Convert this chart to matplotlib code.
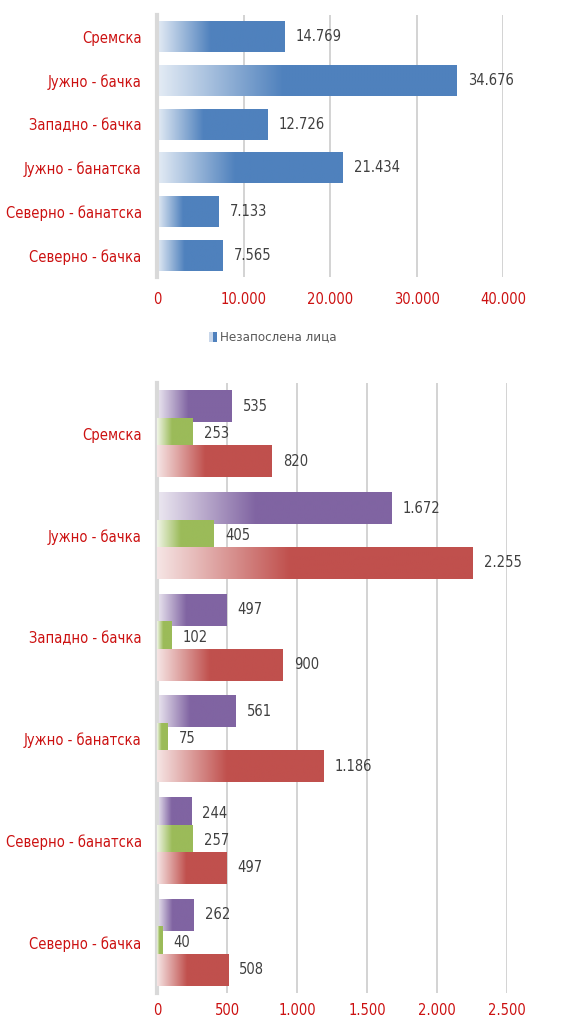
import numpy as np
import matplotlib.pyplot as plt
from matplotlib.colors import to_rgb
from matplotlib.font_manager import fontManager

# podaci
okruzi = ["Сремска", "Јужно - бачка", "Западно - бачка", "Јужно - банатска",
          "Северно - банатска", "Северно - бачка"]
nezaposleni = [14769, 34676, 12726, 21434, 7133, 7565]
serija_lj = [535, 1672, 497, 561, 244, 262]
serija_ze = [253, 405, 102, 75, 257, 40]
serija_cr = [820, 2255, 900, 1186, 497, 508]

top_ticks = [0, 10000, 20000, 30000, 40000]
bot_ticks = [0, 500, 1000, 1500, 2000, 2500]

# uzak font ako postoji
condensed = [f for f in fontManager.ttflist
             if f.name == 'DejaVu Sans' and 'condensed' in str(f.stretch).lower()]
if condensed:
    plt.rcParams['font.family'] = ['DejaVu Sans']
    plt.rcParams['font.stretch'] = 'condensed'
    FS = 10
else:
    plt.rcParams['font.family'] = ['Liberation Sans', 'DejaVu Sans']
    FS = 9.5

RED_TXT = '#CC1111'
VAL_TXT = '#404040'
GRID = '#D0D0D0'


def fmt(v):
    return f"{v:,}".replace(',', '.')


def gradient_fill(ax, bars, color):
    c = np.array(to_rgb(color))
    light = 1 - (1 - c) * 0.15
    n = 200
    t = np.linspace(0, 1, n)
    w = np.clip(t / 0.42, 0, 1)
    img = light[None, :] * (1 - w[:, None]) + c[None, :] * w[:, None]
    img = img[None, :, :]
    for b in bars:
        x0, y0 = b.get_x(), b.get_y()
        x1, y1 = x0 + b.get_width(), y0 + b.get_height()
        b.set_facecolor('none')
        im = ax.imshow(img, extent=(x0, x1, y1, y0), aspect='auto',
                       zorder=b.get_zorder(), interpolation='bilinear')
        im.set_clip_path(b)


def style_axis(ax, ticks, xmax, xpad):
    ax.set_xlim(0, xmax)
    ax.set_ylim(5.5, -0.5)
    ax.set_xticks(ticks)
    ax.set_xticklabels([fmt(t) for t in ticks], color=RED_TXT, fontsize=FS + 0.5)
    ax.set_yticks(range(len(okruzi)))
    ax.set_yticklabels(okruzi, color=RED_TXT, fontsize=FS + 0.5)
    ax.tick_params(length=0, pad=11)
    ax.tick_params(axis='x', pad=xpad)
    ax.grid(axis='x', color=GRID, linewidth=1.3)
    ax.set_axisbelow(True)
    for s in ['top', 'right', 'bottom']:
        ax.spines[s].set_visible(False)
    ax.spines['left'].set_color('#D9D9D9')
    ax.spines['left'].set_linewidth(3)


fig = plt.figure(figsize=(5.61, 10.23), dpi=100)

# gornji grafikon
ax1 = fig.add_axes([0.2799, 0.7292, 0.8966 - 0.2799, 0.9853 - 0.7292])
y = np.arange(len(okruzi))
b1 = ax1.barh(y, nezaposleni, height=0.71, color='#4F81BD', zorder=2)
gradient_fill(ax1, b1, '#4F81BD')
for yi, v in zip(y, nezaposleni):
    ax1.annotate(fmt(v), (v, yi), xytext=(8, 0), textcoords='offset points',
                 va='center', ha='left', color=VAL_TXT, fontsize=FS + 0.5)
style_axis(ax1, top_ticks, 40000, 11)

# legenda
lx, ly = 0.373, 1 - 337 / 1023
fig.patches.append(plt.Rectangle((lx, ly - 0.005), 0.0145, 0.010, transform=fig.transFigure,
                                 facecolor='#4F81BD', edgecolor='none'))
fig.patches.append(plt.Rectangle((lx, ly - 0.005), 0.006, 0.010, transform=fig.transFigure,
                                 facecolor='#C9D7EA', edgecolor='none'))
fig.text(lx + 0.019, ly, "Незапослена лица", va='center', ha='left',
         color='#595959', fontsize=FS - 0.5)

# donji grafikon
ax2 = fig.add_axes([0.2799, 0.0293, 0.9037 - 0.2799, 0.6256 - 0.0293])
off = 0.27
h = 0.315
series = [(serija_lj, '#8064A2', -off), (serija_ze, '#9BBB59', 0), (serija_cr, '#C0504D', off)]
for k, (vals, col, dy) in enumerate(series):
    bb = ax2.barh(y + dy, vals, height=h, color=col, zorder=2 + k)
    gradient_fill(ax2, bb, col)
    for yi, v in zip(y + dy, vals):
        ax2.annotate(fmt(v), (v, yi), xytext=(8, 0), textcoords='offset points',
                     va='center', ha='left', color=VAL_TXT, fontsize=FS + 0.5, zorder=10)
style_axis(ax2, bot_ticks, 2500, 7)

fig.savefig('out.png', dpi=100)
